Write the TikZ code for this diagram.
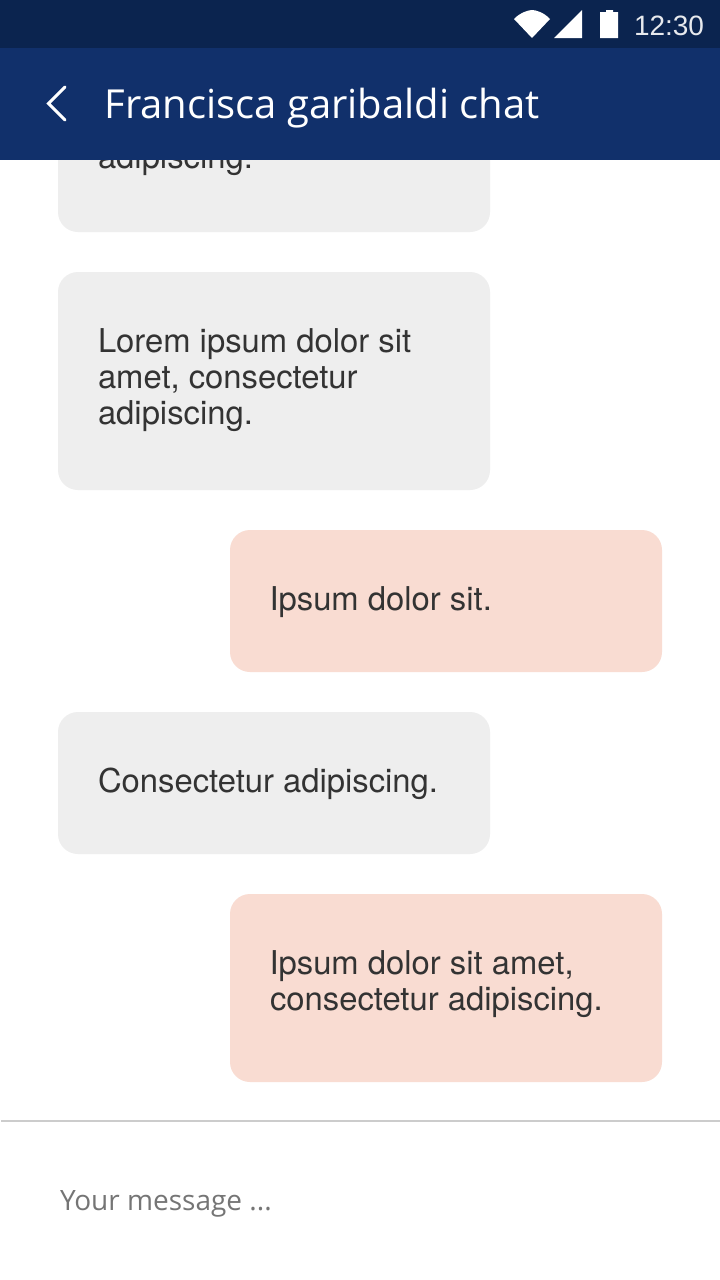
\documentclass[tikz,border=0pt]{standalone}
\usepackage{fontspec}
\setmainfont{TeX Gyre Heros}
\newfontfamily\opensans{Open Sans}
\newfontfamily\clockfont{Liberation Sans}
\definecolor{statusbar}{HTML}{0B244F}
\definecolor{appbar}{HTML}{11306B}
\definecolor{greybub}{HTML}{EEEEEE}
\definecolor{pinkbub}{HTML}{F9DCD2}
\definecolor{bodytext}{HTML}{333333}
\definecolor{hint}{HTML}{757575}
\definecolor{rule}{HTML}{CCCCCC}
\tikzset{
  px/.style={x=1pt,y=-1pt},
  bubble/.style={rounded corners=20pt,minimum width=432pt,inner sep=0pt,outer sep=0pt,anchor=north west},
  incoming/.style={bubble,fill=greybub},
  outgoing/.style={bubble,fill=pinkbub},
  msg/.style={anchor=base west,inner sep=0pt,outer sep=0pt,text=bodytext,font=\fontsize{32.8}{36}\selectfont},
  title/.style={anchor=base west,inner sep=0pt,outer sep=0pt,text=white,font=\opensans\fontsize{40}{44}\selectfont},
  hinttext/.style={anchor=base west,inner sep=0pt,outer sep=0pt,text=hint,font=\opensans\fontsize{28}{32}\selectfont},
  clock/.style={anchor=base west,inner sep=0pt,outer sep=0pt,text=white!90!statusbar,font=\clockfont\fontsize{28}{32}\selectfont},
}
\begin{document}
\begin{tikzpicture}[px]
\useasboundingbox (0,0) rectangle (720,1280);
\fill[white] (0,0) rectangle (720,1280);
% messages
\node[incoming,minimum height=218pt] (b0) at (58,14) {};
\node[msg] (t0) at (98,168) {adipiscing.};
\node[incoming,minimum height=218pt] (b1) at (58,272) {};
\node[msg] (t1a) at (98,352) {Lorem ipsum dolor sit};
\node[msg] (t1b) at (98,388) {amet, consectetur};
\node[msg] (t1c) at (98,424) {adipiscing.};
\node[outgoing,minimum height=142pt] (b2) at (230,530) {};
\node[msg] (t2) at (269.5,610) {Ipsum dolor sit.};
\node[incoming,minimum height=142pt] (b3) at (58,712) {};
\node[msg] (t3) at (98,792) {Consectetur adipiscing.};
\node[outgoing,minimum height=188pt] (b4) at (230,894) {};
\node[msg] (t4a) at (269.5,974) {Ipsum dolor sit amet,};
\node[msg] (t4b) at (270,1010) {consectetur adipiscing.};
% bars
\fill[appbar] (0,48) rectangle (720,160);
\fill[statusbar] (0,0) rectangle (720,48);
\draw[white,line width=3pt,line cap=round,line join=miter] (65,87) -- (48.5,103.5) -- (65,120);
\node[title] (title) at (104.5,118) {Francisca garibaldi chat};
% status icons
\fill[white] (514,19) .. controls (520,12.5) and (529,10) .. (532,10) .. controls (536,10) and (544,12.5) .. (550,19) -- (532,38) -- cycle;
\fill[white] (582,38) -- (582,10) -- (554,38) -- cycle;
\fill[white] (600,12) -- (606,12) -- (606,10) -- (613,10) -- (613,12) -- (618,12) -- (618,38) -- (600,38) -- cycle;
\node[clock] (time) at (634,35) {12:30};
% input
\draw[rule,line width=2pt] (1,1121) -- (720,1121);
\node[hinttext] (hint) at (60,1210) {Your message ...};
\end{tikzpicture}
\end{document}
